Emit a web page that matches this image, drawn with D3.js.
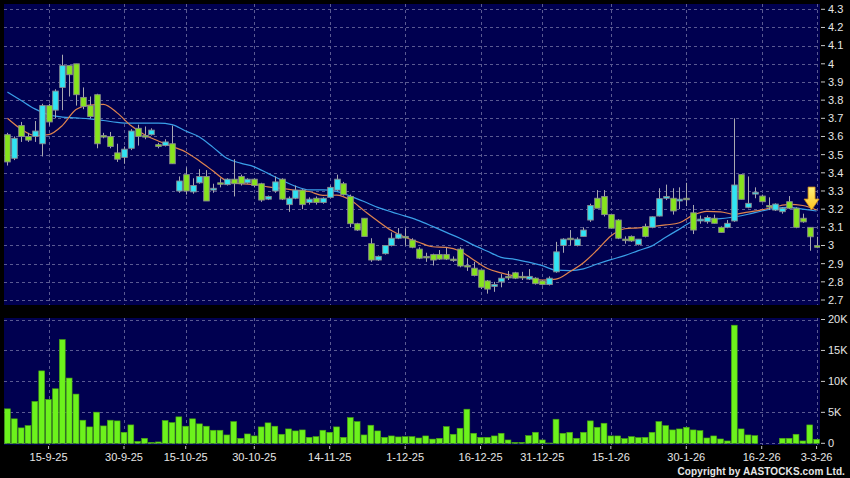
<!DOCTYPE html>
<html>
<head>
<meta charset="utf-8">
<script src="https://cdn.jsdelivr.net/npm/d3@7"></script>
<style>
body{margin:0;background:#000}
svg{display:block}
text{font-family:Arial,"Liberation Sans",sans-serif}
</style>
</head>
<body>
<div id="chart"></div>
<script>
// trading days shown on the chart
var dates = ["5-9-25","8-9-25","9-9-25","10-9-25","11-9-25","12-9-25","15-9-25","16-9-25","17-9-25","18-9-25","19-9-25","22-9-25","23-9-25","24-9-25","25-9-25","26-9-25","29-9-25","30-9-25",
	"2-10-25","3-10-25","6-10-25","8-10-25","9-10-25","10-10-25","13-10-25","14-10-25","15-10-25","16-10-25","17-10-25","20-10-25","21-10-25","22-10-25","23-10-25","24-10-25","27-10-25","28-10-25","30-10-25","31-10-25",
	"3-11-25","4-11-25","5-11-25","6-11-25","7-11-25","10-11-25","11-11-25","12-11-25","13-11-25","14-11-25","17-11-25","18-11-25","19-11-25","20-11-25","21-11-25","24-11-25","25-11-25","26-11-25","27-11-25","28-11-25",
	"1-12-25","2-12-25","3-12-25","4-12-25","5-12-25","8-12-25","9-12-25","10-12-25","11-12-25","12-12-25","15-12-25","16-12-25","17-12-25","18-12-25","19-12-25","22-12-25","23-12-25","24-12-25","29-12-25","30-12-25","31-12-25",
	"2-1-26","5-1-26","6-1-26","7-1-26","8-1-26","9-1-26","12-1-26","13-1-26","14-1-26","15-1-26","16-1-26","19-1-26","20-1-26","21-1-26","22-1-26","23-1-26","26-1-26","27-1-26","28-1-26","29-1-26","30-1-26",
	"2-2-26","3-2-26","4-2-26","5-2-26","6-2-26","9-2-26","10-2-26","11-2-26","12-2-26","13-2-26","16-2-26","20-2-26","23-2-26","24-2-26","25-2-26","26-2-26","27-2-26",
	"2-3-26","3-3-26"]

var open = [3.61,3.48,3.66,3.60,3.60,3.56,3.77,3.745,3.87,3.99,4.00,3.815,3.77,3.83,3.605,3.60,3.51,3.485,
	3.535,3.645,3.605,3.61,3.555,3.55,3.56,3.30,3.39,3.295,3.345,3.38,3.305,3.345,3.335,3.365,3.38,3.345,3.365,3.34,
	3.255,3.30,3.365,3.225,3.26,3.305,3.237,3.26,3.237,3.265,3.305,3.34,3.27,3.12,3.15,3.01,2.92,2.955,3.00,3.04,
	3.05,3.03,2.98,2.94,2.95,2.95,2.95,2.925,2.98,2.89,2.875,2.865,2.805,2.775,2.80,2.83,2.85,2.83,2.815,2.82,2.805,
	2.785,2.855,3.00,3.04,3.00,3.05,3.14,3.26,3.27,3.17,3.14,3.035,3.05,3.005,3.105,3.10,3.162,3.26,3.26,3.245,3.26,
	3.18,3.135,3.131,3.15,3.10,3.10,3.135,3.39,3.21,3.283,3.272,3.22,3.195,3.186,3.241,3.205,3.15,
	3.10,2.999]
var high = [3.62,3.60,3.68,3.62,3.685,3.78,3.78,3.86,4.05,3.99,4.00,3.87,3.82,3.835,3.62,3.625,3.56,3.545,
	3.64,3.665,3.655,3.645,3.565,3.585,3.66,3.38,3.43,3.37,3.42,3.415,3.34,3.37,3.37,3.475,3.39,3.37,3.37,3.345,
	3.275,3.38,3.37,3.27,3.33,3.31,3.265,3.27,3.265,3.33,3.39,3.35,3.28,3.125,3.15,3.04,2.945,3.00,3.072,3.096,
	3.095,3.04,2.99,2.96,2.955,2.975,2.988,2.94,2.99,2.93,2.91,2.865,2.81,2.80,2.843,2.86,2.855,2.855,2.87,2.825,2.81,
	2.83,3.02,3.04,3.085,3.045,3.10,3.23,3.305,3.305,3.175,3.145,3.05,3.055,3.035,3.12,3.16,3.315,3.335,3.315,3.32,3.345,
	3.223,3.165,3.165,3.17,3.105,3.14,3.70,3.393,3.38,3.32,3.28,3.265,3.232,3.21,3.272,3.21,3.175,
	3.10,3.048]
var low = [3.44,3.47,3.57,3.57,3.57,3.49,3.66,3.70,3.745,3.82,3.77,3.75,3.70,3.535,3.59,3.535,3.46,3.45,
	3.525,3.55,3.585,3.605,3.535,3.545,3.45,3.29,3.28,3.285,3.34,3.245,3.29,3.32,3.33,3.27,3.33,3.34,3.32,3.24,
	3.25,3.29,3.25,3.185,3.255,3.20,3.225,3.225,3.23,3.26,3.30,3.275,3.10,3.08,3.05,2.91,2.915,2.95,2.995,3.035,
	3.00,2.985,2.925,2.91,2.89,2.92,2.92,2.91,2.88,2.86,2.83,2.76,2.735,2.745,2.77,2.81,2.815,2.81,2.81,2.785,2.78,
	2.78,2.85,2.96,3.00,2.995,3.05,3.13,3.205,3.16,3.095,3.035,3.01,3.02,3.00,3.045,3.095,3.16,3.25,3.17,3.20,3.217,
	3.063,3.12,3.12,3.12,3.07,3.095,3.13,3.254,3.205,3.26,3.24,3.195,3.19,3.175,3.20,3.095,3.125,
	2.971,2.985]
var close = [3.46,3.59,3.60,3.58,3.63,3.77,3.68,3.85,3.99,3.94,3.83,3.765,3.71,3.56,3.60,3.545,3.475,3.53,
	3.63,3.60,3.60,3.635,3.545,3.57,3.45,3.355,3.30,3.33,3.38,3.245,3.315,3.34,3.365,3.34,3.34,3.365,3.33,3.25,
	3.27,3.35,3.255,3.26,3.305,3.225,3.255,3.237,3.26,3.32,3.365,3.28,3.12,3.085,3.05,2.92,2.94,3.00,3.04,3.063,
	3.045,2.99,2.93,2.935,2.92,2.925,2.925,2.92,2.887,2.885,2.835,2.77,2.76,2.785,2.82,2.825,2.82,2.825,2.83,2.79,2.785,
	2.82,2.965,3.035,3.035,3.035,3.085,3.22,3.205,3.17,3.095,3.04,3.03,3.025,3.035,3.05,3.158,3.258,3.27,3.19,3.255,3.255,
	3.085,3.145,3.154,3.122,3.072,3.122,3.333,3.254,3.232,3.293,3.241,3.214,3.228,3.205,3.205,3.10,3.13,
	3.048,2.99]
// volume in thousands of shares
var volume = [5.57,3.95,2.49,2.86,6.76,11.7,7.08,8.81,16.76,10.54,7.95,3.73,2.65,5.03,2.81,3.73,3.62,1.78,
	2.97,0.32,0.81,0.16,0.22,3.68,3.35,4.27,2.76,3.95,3.14,2.76,2.11,2.11,1.35,3.51,0.81,1.51,1.19,2.65,
	3.3,2.76,1.46,2.32,2.0,2.16,0.97,1.08,2.11,1.78,2.65,0.97,4.16,3.51,1.35,2.92,2.0,0.97,1.19,1.03,
	1.08,1.08,0.86,1.19,0.68,0.81,2.70,1.46,2.43,5.51,1.62,0.97,0.97,1.19,1.62,0.54,0.16,0.16,1.24,1.78,0.54,
	0.05,3.89,1.62,1.78,0.81,1.78,3.62,2.59,3.24,1.19,1.19,0.76,1.08,0.92,0.97,1.78,3.51,2.86,2.16,2.32,2.59,
	2.16,2.05,0.86,1.19,0.70,0.38,19.08,2.32,1.35,1.24,0,0,0,0.81,0.81,1.46,0.38,
	2.97,0.65]
// moving averages read every second trading day
var ma10 = [3.70,3.64,3.605,3.61,3.66,3.748,3.773,3.777,3.73,3.66,3.61,3.575,3.545,3.515,3.465,3.41,3.355,3.34,3.336,3.323,
	3.314,3.304,3.297,3.276,3.277,3.25,3.192,3.135,3.082,3.045,3.018,2.993,2.99,2.97,2.92,2.873,2.849,2.831,2.822,2.81,
	2.815,2.855,2.905,2.975,3.052,3.092,3.097,3.104,3.113,3.125,3.167,3.188,3.185,3.172,3.184,3.196,3.213,3.226,3.22,3.195]
var ma20 = [3.845,3.798,3.752,3.72,3.707,3.702,3.697,3.688,3.678,3.673,3.673,3.673,3.665,3.63,3.597,3.54,3.48,3.453,3.433,3.397,
	3.36,3.326,3.306,3.306,3.298,3.272,3.242,3.21,3.185,3.162,3.137,3.105,3.072,3.04,3.002,2.968,2.935,2.924,2.908,2.889,
	2.864,2.862,2.871,2.898,2.922,2.944,2.972,2.998,3.045,3.09,3.133,3.142,3.148,3.157,3.172,3.19,3.205,3.21,3.2,3.19]

var dateTicks = ["15-9-25","30-9-25","15-10-25","30-10-25","14-11-25","1-12-25","16-12-25","31-12-25","15-1-26","30-1-26","16-2-26","3-3-26"]
var priceTicks = [2.7,2.8,2.9,3.0,3.1,3.2,3.3,3.4,3.5,3.6,3.7,3.8,3.9,4.0,4.1,4.2,4.3]
var volTicks = [0,5,10,15,20]

var W = 850, H = 478
var left = 4, right = 820
var pTop = 4, pBot = 305
var vTop = 318, vBot = 445

var svg = d3.select("#chart").append("svg")
	.attr("width", W)
	.attr("height", H)
svg.append("rect").attr("width", W).attr("height", H).attr("fill", "#000")

var x = d3.scaleBand().domain(dates).range([left, right])
var bw = x.bandwidth()
var cx = function(d){ return x(d) + bw/2 }

var y = d3.scaleLinear().domain([2.7, 4.3]).range([300, 9.3])
var yv = d3.scaleLinear().domain([0, 20]).range([443.3, 319.5])

var navy = "#000050", grid = "#5a5a92", txt = "#e6e6e6"

// panels
svg.append("rect").attr("x", left).attr("y", pTop).attr("width", right-left).attr("height", pBot-pTop).attr("fill", navy)
svg.append("rect").attr("x", left).attr("y", vTop).attr("width", right-left).attr("height", vBot-vTop).attr("fill", navy)

svg.append("clipPath").attr("id", "pclip")
	.append("rect").attr("x", left).attr("y", pTop).attr("width", right-left).attr("height", pBot-pTop)

// grid
var g = svg.append("g").attr("stroke", grid).attr("stroke-dasharray", "3,3").attr("stroke-width", 1)
priceTicks.forEach(function(v){
	g.append("line").attr("x1", left).attr("x2", right).attr("y1", Math.round(y(v))+0.5).attr("y2", Math.round(y(v))+0.5)
})
volTicks.forEach(function(v){
	g.append("line").attr("x1", left).attr("x2", right).attr("y1", Math.round(yv(v))+0.5).attr("y2", Math.round(yv(v))+0.5)
})
dateTicks.forEach(function(d){
	var xx = Math.round(cx(d))+0.5
	g.append("line").attr("x1", xx).attr("x2", xx).attr("y1", pTop).attr("y2", pBot)
	g.append("line").attr("x1", xx).attr("x2", xx).attr("y1", vTop).attr("y2", vBot)
})

// moving averages
var maLine = d3.line()
	.x(function(d){ return cx(d.d) })
	.y(function(d){ return y(d.v) })
	.curve(d3.curveMonotoneX)
var ma10pts = ma10.map(function(v, k){ return {d: dates[k*2], v: v} })
var ma20pts = ma20.map(function(v, k){ return {d: dates[k*2], v: v} })
var lines = svg.append("g").attr("clip-path", "url(#pclip)").attr("fill", "none").attr("stroke-width", 1.2)
lines.append("path").attr("d", maLine(ma20pts)).attr("stroke", "#3a9fe8")
lines.append("path").attr("d", maLine(ma10pts)).attr("stroke", "#e0844e")

// candles
var candles = dates.map(function(d, i){
	return {d: d, o: open[i], h: high[i], l: low[i], c: close[i]}
})
var cg = svg.append("g").attr("clip-path", "url(#pclip)")
cg.selectAll("line.wick").data(candles).enter().append("line")
	.attr("class", "wick")
	.attr("x1", function(d){ return Math.round(cx(d.d))+0.5 })
	.attr("x2", function(d){ return Math.round(cx(d.d))+0.5 })
	.attr("y1", function(d){ return y(d.h) })
	.attr("y2", function(d){ return y(d.l) })
	.attr("stroke", "#a8a8b0")
	.attr("stroke-width", 1)
cg.selectAll("rect.body").data(candles).enter().append("rect")
	.attr("class", "body")
	.attr("x", function(d){ return Math.round(cx(d.d)) - 2.3 })
	.attr("width", 5.6)
	.attr("y", function(d){ return y(Math.max(d.o, d.c)) })
	.attr("height", function(d){ return Math.max(1.5, Math.abs(y(d.o) - y(d.c))) })
	.attr("fill", function(d){ return d.c >= d.o ? "#30e4f4" : "#86e41c" })
	.attr("stroke", "#8a8a90")
	.attr("stroke-width", 0.9)

// volume bars
svg.append("g").selectAll("rect").data(volume).enter().append("rect")
	.attr("x", function(v, i){ return x(dates[i]) + 0.5 })
	.attr("width", bw - 1)
	.attr("y", function(v){ return yv(v) })
	.attr("height", function(v){ return yv(0) - yv(v) })
	.attr("fill", "#6cf21c")
	.attr("stroke", "#48a012")
	.attr("stroke-width", 0.6)

// right axes
var ax = svg.append("g").attr("fill", txt).attr("font-size", "11px")
priceTicks.forEach(function(v){
	ax.append("line").attr("x1", right+1).attr("x2", right+5).attr("y1", y(v)).attr("y2", y(v)).attr("stroke", "#c8c8c8")
	ax.append("text").attr("x", right+8).attr("y", y(v)).attr("dy", "0.35em").text(d3.format("~g")(v))
})
volTicks.forEach(function(v){
	ax.append("line").attr("x1", right+1).attr("x2", right+5).attr("y1", yv(v)).attr("y2", yv(v)).attr("stroke", "#c8c8c8")
	ax.append("text").attr("x", right+8).attr("y", yv(v)).attr("dy", "0.35em").text(v == 0 ? "0" : v + "K")
})

// date axis
dateTicks.forEach(function(d){
	ax.append("line").attr("x1", cx(d)).attr("x2", cx(d)).attr("y1", vBot+1).attr("y2", vBot+4).attr("stroke", "#c8c8c8")
	ax.append("text").attr("x", cx(d)).attr("y", 461).attr("text-anchor", "middle").text(d)
})

// marker arrow on the last bar
var grad = svg.append("defs").append("linearGradient").attr("id", "arr").attr("x1", 0).attr("x2", 0).attr("y1", 0).attr("y2", 1)
grad.append("stop").attr("offset", "0%").attr("stop-color", "#fff27a")
grad.append("stop").attr("offset", "100%").attr("stop-color", "#ffc21e")
var tx = cx(dates[dates.length-1]) - 5, ty = y(ma10[ma10.length-1])
svg.append("path")
	.attr("d", "M" + (tx-3.5) + "," + (ty-23) + "h7v12h4l-7.5,11l-7.5,-11h4z")
	.attr("fill", "url(#arr)")
	.attr("stroke", "#d08a14")
	.attr("stroke-width", 0.8)

svg.append("text")
	.attr("x", 845).attr("y", 475)
	.attr("text-anchor", "end")
	.attr("fill", txt)
	.attr("font-size", "10px")
	.attr("font-weight", "bold")
	.attr("letter-spacing", "0.1")
	.text("Copyright by AASTOCKS.com Ltd.")
</script>
</body>
</html>
